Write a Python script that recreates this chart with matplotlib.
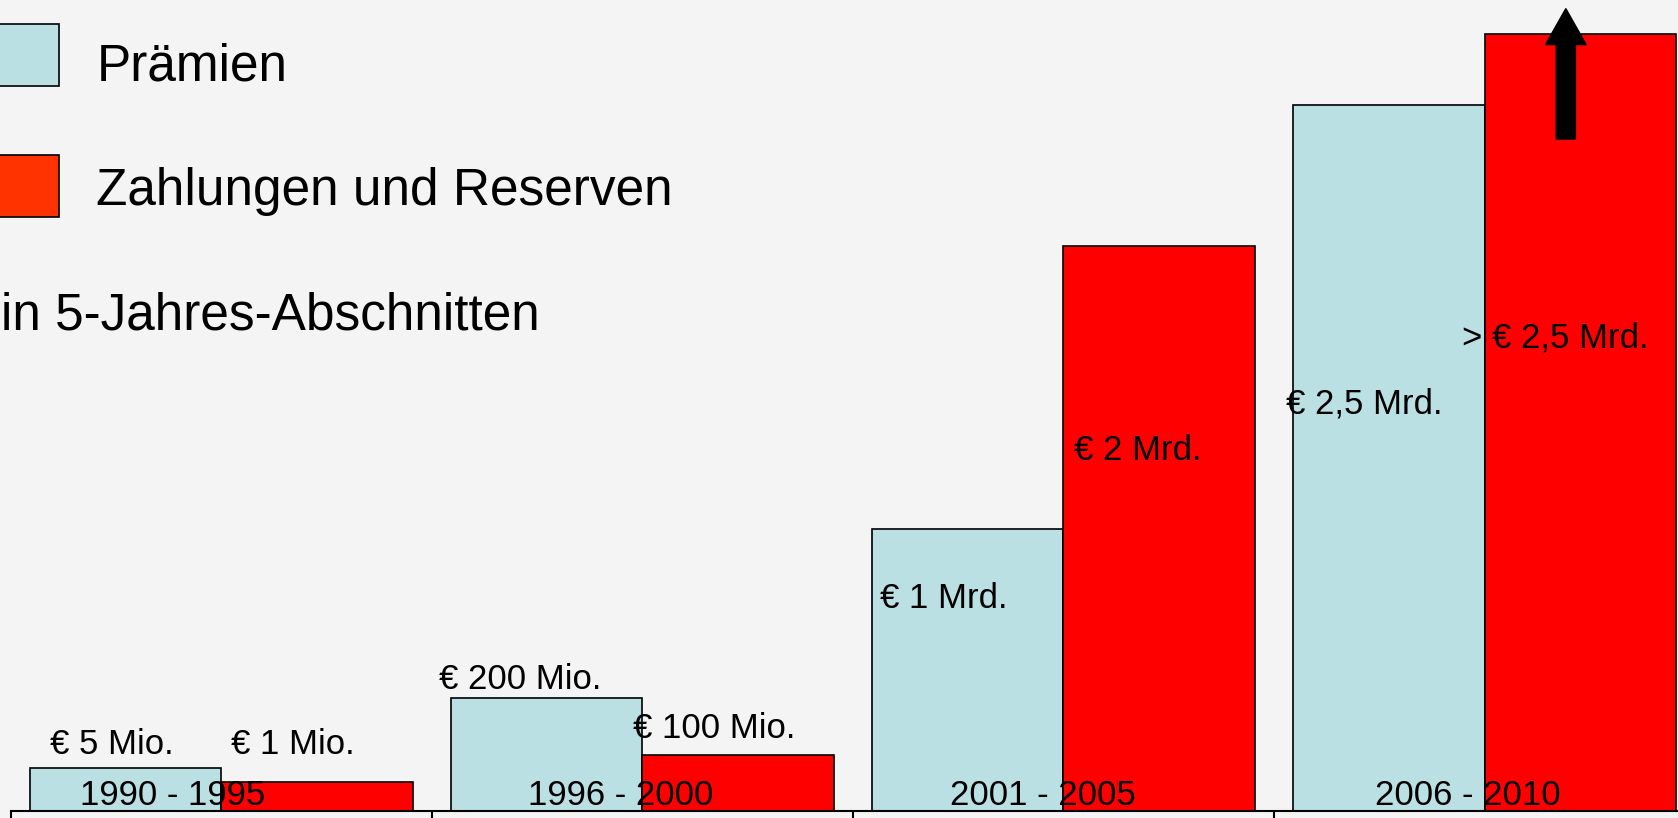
import matplotlib
matplotlib.use("Agg")
import matplotlib.pyplot as plt
from matplotlib.patches import Rectangle, FancyArrow

plt.rcParams['font.family'] = ['Liberation Sans', 'DejaVu Sans']

# ---- data ----
categories = ["1990 - 1995", "1996 - 2000", "2001 - 2005", "2006 - 2010"]
series_names = ["Prämien", "Zahlungen und Reserven"]
subtitle = "in 5-Jahres-Abschnitten"
# bar heights (schematic in relative units)
premiums = [42.8, 113.4, 282.5, 706.3]
claims = [28.9, 55.7, 565.0, 777.0]
premium_labels = ["€ 5 Mio.", "€ 200 Mio.", "€ 1 Mrd.", "€ 2,5 Mrd."]
claim_labels = ["€ 1 Mio.", "€ 100 Mio.", "€ 2 Mrd.", "> € 2,5 Mrd."]

# ---- layout (label anchors, left/baseline, data coords) ----
premium_label_pos = [(-0.406, 56.5), (0.517, 121.8), (1.564, 203.1), (2.529, 397.9)]
claim_label_pos = [(0.024, 56.5), (0.977, 72.6), (2.024, 350.8), (2.946, 463.2)]
cat_label_pos = [-0.335, 0.7275, 1.731, 2.740]

W, H = 1678, 818
BG = "#f4f4f4"
BLUE = "#bae0e3"
RED = "#ff0000"
LEG_RED = "#ff3300"

fig = plt.figure(figsize=(W / 100, H / 100), dpi=100, facecolor=BG)
baseline_px = 811
ax = fig.add_axes([10.7 / W, (H - baseline_px) / H, 4 * 421.1 / W, baseline_px / H])
ax.set_facecolor(BG)
ax.patch.set_alpha(0)
ax.set_xlim(-0.5, 3.5)
ax.set_ylim(0, baseline_px)

bw = 0.455
xs = list(range(len(categories)))
ax.bar([x - bw / 2 for x in xs], premiums, width=bw, color=BLUE,
       edgecolor="black", linewidth=1.2, zorder=2)
ax.bar([x + bw / 2 for x in xs], claims, width=bw, color=RED,
       edgecolor="black", linewidth=1.2, zorder=2)

fs = 25
for (px, py), t in zip(premium_label_pos, premium_labels):
    ax.text(px, py, t, fontsize=fs, ha="left", va="baseline", zorder=5)
for (px, py), t in zip(claim_label_pos, claim_labels):
    ax.text(px, py, t, fontsize=fs, ha="left", va="baseline", zorder=5)
for cx, t in zip(cat_label_pos, categories):
    ax.text(cx, 6.2, t, fontsize=fs, ha="left", va="baseline", zorder=5)

# upward arrow on the last claims bar
ax.add_patch(FancyArrow(3.193, 672, 0, 130.4, width=0.0456, head_width=0.0966,
                        head_length=36, length_includes_head=True,
                        color="black", zorder=4))

# category axis as a boxed row
for s in ["top", "right", "left"]:
    ax.spines[s].set_visible(False)
ax.spines["bottom"].set_linewidth(1.5)
ax.set_yticks([])
ax.set_xticks([-0.5, 0.5, 1.5, 2.5, 3.5])
ax.set_xticklabels([])
ax.tick_params(axis="x", direction="out", length=10, width=1.5, color="black")

# legend drawn in figure pixels
def fx(x):
    return x / W

def fy(y):
    return 1 - y / H

fig.patches.append(Rectangle((fx(-4), fy(85.6)), 63 / W, 62 / H, transform=fig.transFigure,
                             facecolor=BLUE, edgecolor="black", linewidth=1.2))
fig.patches.append(Rectangle((fx(-4), fy(216.5)), 63 / W, 61.5 / H, transform=fig.transFigure,
                             facecolor=LEG_RED, edgecolor="black", linewidth=1.2))
lfs = 37
fig.text(fx(96.3), fy(80.3), series_names[0], fontsize=lfs, ha="left", va="baseline")
fig.text(fx(96.3), fy(205.5), series_names[1], fontsize=lfs, ha="left", va="baseline")
fig.text(fx(1), fy(329.6), subtitle, fontsize=lfs, ha="left", va="baseline")

fig.savefig("out.png", dpi=100, facecolor=BG)
